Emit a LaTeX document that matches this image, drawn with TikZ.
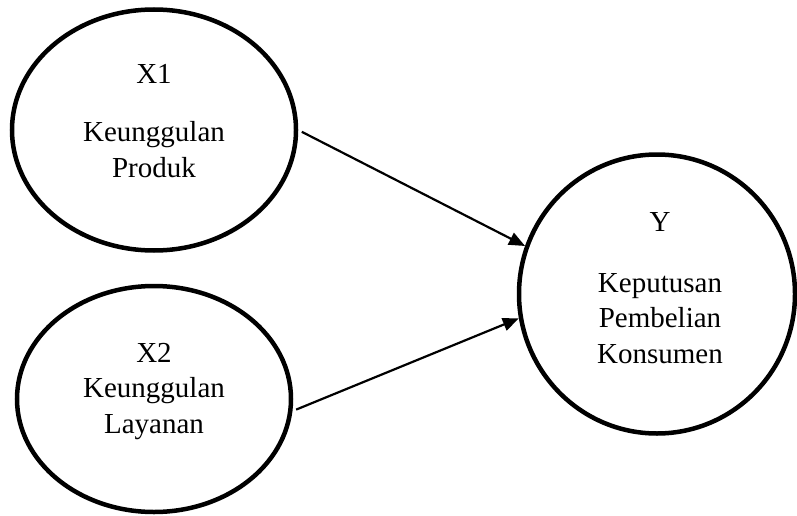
\documentclass[tikz,border=0pt]{standalone}
\usepackage{fontspec}
\setmainfont{Liberation Serif}
\usepackage{tikz}
\usetikzlibrary{arrows.meta,shapes.geometric,positioning}

\begin{document}
\begin{tikzpicture}[x = 1pt, y = -1pt,
  var/.style = {ellipse, draw, line width = 4.5pt, inner sep = 0pt},
  lbl/.style = {font = \fontsize{29}{35.5}\selectfont, align = center, anchor = base, inner sep = 0pt},
  arr/.style = {-{Triangle[length = 16pt, width = 13pt]}, line width = 2.2pt}]
\useasboundingbox (0,0) rectangle (797,516);
% variables
\node[var, minimum width = 284pt, minimum height = 241pt] (x1) at (154,130) {};
\node[var, minimum width = 274pt, minimum height = 226pt] (x2) at (154,399) {};
\node[var, minimum width = 276pt, minimum height = 279pt] (y) at (657,294) {};
% labels
\node[lbl] (x1t) at (154,177) {X1\\[23pt]Keunggulan\\Produk};
\node[lbl] (x2t) at (154,433) {X2\\Keunggulan\\Layanan};
\node[lbl] (yt) at (660,363) {Y\\[25pt]Keputusan\\Pembelian\\Konsumen};
% paths
\draw[arr, shorten <= 4pt] (x1.east) -- (y.160);
\draw[arr, shorten <= 4pt] (x2.-5) -- (y.190);
\end{tikzpicture}
\end{document}
